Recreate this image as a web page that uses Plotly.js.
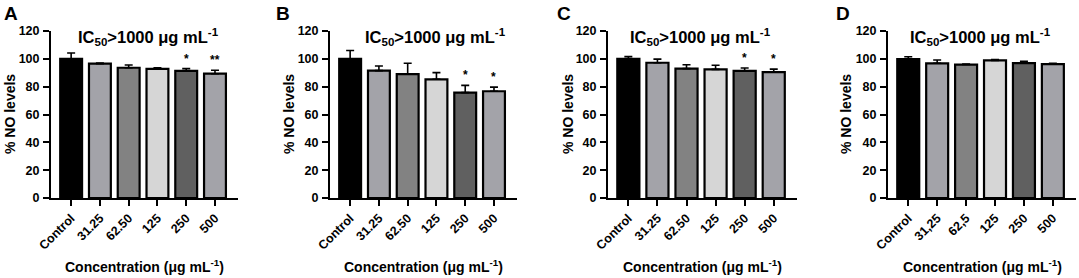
<!DOCTYPE html>
<html>
<head>
<meta charset="utf-8">
<script src="https://cdn.plot.ly/plotly-3.0.1.min.js"></script>
<style>
html,body{margin:0;padding:0;background:#fff;}
#chart{width:1079px;height:278px;}
</style>
</head>
<body>
<div id="chart"></div>
<script>
// ---- data ----
const catsABC = ['Control', '31.25', '62.50', '125', '250', '500'];
const catsD = ['Control', '31,25', '62,5', '125', '250', '500'];
const barColors = ['#000000', '#a3a3a9', '#828282', '#d6d6d6', '#606060', '#a3a3a9'];

const valsA = [100, 96.5, 93.6, 92.8, 91.3, 89.3];
const errA  = [4.2, 0.4, 2.0, 0.8, 1.7, 2.5];
const sigA  = ['', '', '', '', '*', '**'];

const valsB = [100, 91.5, 89.0, 85.3, 75.7, 76.7];
const errB  = [6.0, 3.3, 7.8, 4.8, 5.2, 3.0];
const sigB  = ['', '', '', '', '*', '*'];

const valsC = [100, 97.2, 93.0, 92.4, 91.4, 90.4];
const errC  = [1.6, 2.6, 2.7, 3.0, 2.0, 2.2];
const sigC  = ['', '', '', '', '*', '*'];

const valsD = [99.8, 96.8, 95.9, 98.9, 96.9, 96.2];
const errD  = [1.7, 2.4, 0.4, 0.5, 1.3, 0.6];
const sigD  = ['', '', '', '', '', ''];

const panelLetters = ['A', 'B', 'C', 'D'];
const panelTitle = 'IC<sub>50</sub>>1000 μg mL<sup>-1</sup>';
const xTitle = 'Concentration (μg mL<sup>-1</sup>)';
const yTitle = '% NO levels';

// ---- layout geometry ----
const W = 1079, H = 278;
const FONT = 'Liberation Sans, Arial, sans-serif';
const panels = [
  {cats: catsABC, vals: valsA, err: errA, sig: sigA, dom: [51, 238], letterX: 11, titleX: 148, xtX: 144, ytX: 10},
  {cats: catsABC, vals: valsB, err: errB, sig: sigB, dom: [330, 517], letterX: 283, titleX: 435, xtX: 423, ytX: 289},
  {cats: catsABC, vals: valsC, err: errC, sig: sigC, dom: [608, 797], letterX: 564, titleX: 700, xtX: 702, ytX: 568},
  {cats: catsD, vals: valsD, err: errD, sig: sigD, dom: [888, 1076], letterX: 843, titleX: 980, xtX: 982, ytX: 846}
];
const yDom = [(H - 198) / H, (H - 31) / H];

const traces = [];
const layout = {
  width: W, height: H,
  margin: {l: 0, r: 0, t: 0, b: 0},
  paper_bgcolor: '#fff', plot_bgcolor: '#fff',
  showlegend: false,
  font: {family: FONT, color: '#000'},
  annotations: []
};

panels.forEach((p, i) => {
  const n = i === 0 ? '' : String(i + 1);
  const xa = 'x' + n, ya = 'y' + n;
  traces.push({
    type: 'bar',
    x: p.cats, y: p.vals,
    xaxis: xa, yaxis: ya,
    width: 0.76,
    marker: {color: barColors, line: {color: '#000', width: 2.2}},
    error_y: {type: 'data', symmetric: false, array: p.err, arrayminus: p.err.map(() => 0),
              color: '#000', thickness: 1.6, width: 4},
    hoverinfo: 'none'
  });
  layout['xaxis' + n] = {
    domain: [p.dom[0] / W, p.dom[1] / W],
    anchor: ya,
    type: 'category',
    range: [-0.7, 5.8],
    showline: true, linecolor: '#000', linewidth: 2,
    ticks: 'outside', ticklen: 6, tickwidth: 2, tickcolor: '#000',
    tickangle: -45,
    tickfont: {family: FONT, size: 12.5, weight: 'bold', color: '#000'},
    showgrid: false, zeroline: false, fixedrange: true
  };
  layout['yaxis' + n] = {
    domain: yDom,
    anchor: xa,
    range: [0, 120],
    tickvals: [0, 20, 40, 60, 80, 100, 120],
    showline: true, linecolor: '#000', linewidth: 2,
    ticks: 'outside', ticklen: 6, tickwidth: 2, tickcolor: '#000',
    ticklabelstandoff: 1,
    tickfont: {family: FONT, size: 12.5, weight: 'bold', color: '#000'},
    showgrid: false, zeroline: false, fixedrange: true
  };
  // panel letter
  layout.annotations.push({xref: 'paper', yref: 'paper', x: p.letterX / W, y: 1 - 13 / H,
    xanchor: 'center', yanchor: 'middle', showarrow: false,
    text: panelLetters[i], font: {family: FONT, size: 19, weight: 'bold'}});
  // panel title
  layout.annotations.push({xref: 'paper', yref: 'paper', x: p.titleX / W, y: 1 - 37 / H,
    xanchor: 'center', yanchor: 'middle', showarrow: false,
    text: panelTitle, font: {family: FONT, size: 16.5, weight: 'bold'}});
  // x axis title
  layout.annotations.push({xref: 'paper', yref: 'paper', x: p.xtX / W, y: 1 - 266 / H,
    xanchor: 'center', yanchor: 'middle', showarrow: false,
    text: xTitle, font: {family: FONT, size: 14, weight: 'bold'}});
  // y axis title
  layout.annotations.push({xref: 'paper', yref: 'paper', x: p.ytX / W, y: 1 - 114 / H,
    xanchor: 'center', yanchor: 'middle', showarrow: false, textangle: -90,
    text: yTitle, font: {family: FONT, size: 14, weight: 'bold'}});
  // significance stars
  p.sig.forEach((s, j) => {
    if (!s) return;
    layout.annotations.push({xref: xa, yref: ya, x: j, y: p.vals[j] + p.err[j],
      xanchor: 'center', yanchor: 'bottom', yshift: 1, showarrow: false,
      text: s, font: {family: FONT, size: 12, weight: 'bold'}});
  });
});

Plotly.newPlot('chart', traces, layout, {staticPlot: true, displayModeBar: false});
</script>
</body>
</html>
